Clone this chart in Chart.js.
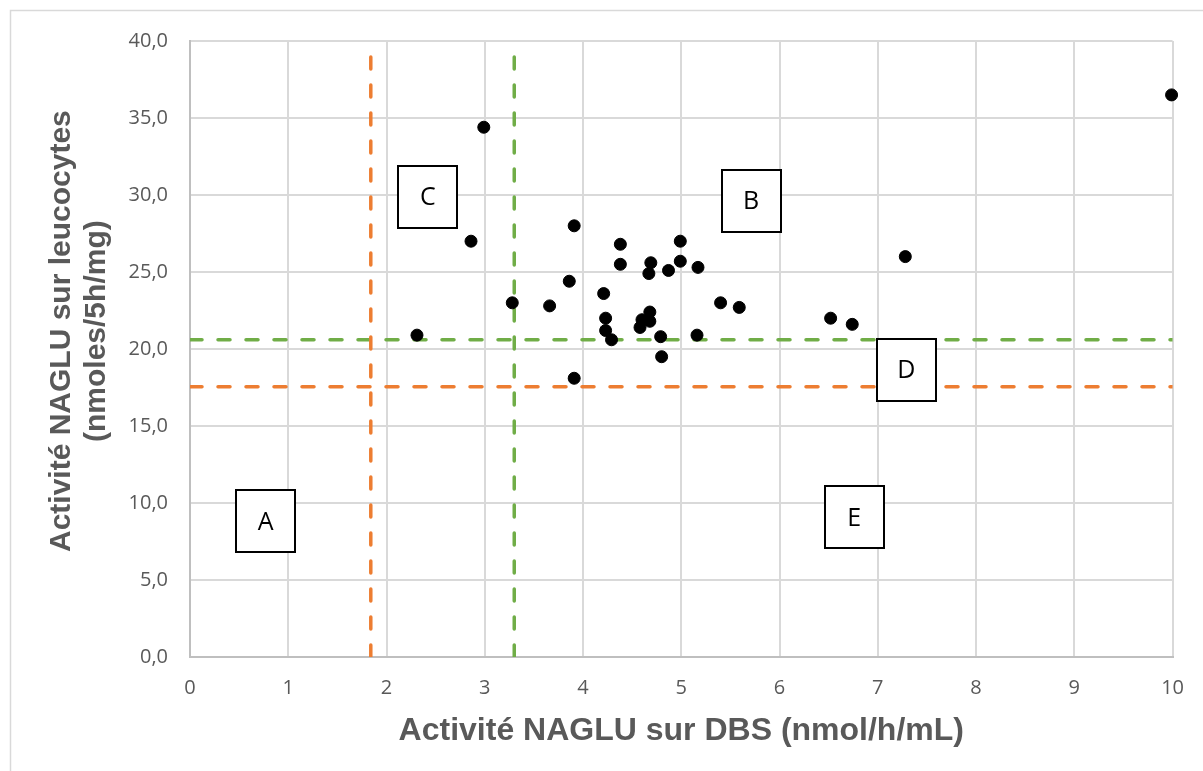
<!DOCTYPE html>
<html>
<head>
<meta charset="utf-8">
<script src="https://cdn.jsdelivr.net/npm/chart.js@4/dist/chart.umd.min.js"></script>
<style>
  html, body { margin: 0; padding: 0; background: #ffffff; }
  #wrap { position: relative; width: 1203px; height: 771px; }
</style>
</head>
<body>
<div id="wrap"><canvas id="c" width="1203" height="771"></canvas></div>
<script>
// ---- Data ----
const dbsActivity = [2.31, 2.86, 2.99, 3.28, 3.66, 3.86, 3.91, 3.91, 4.21, 4.23, 4.23, 4.29, 4.38, 4.38, 4.58, 4.60, 4.67, 4.68, 4.68, 4.69, 4.79, 4.80, 4.87, 4.99, 4.99, 5.16, 5.17, 5.40, 5.59, 6.52, 6.74, 7.28, 9.99];
const leukoActivity = [20.9, 27.0, 34.4, 23.0, 22.8, 24.4, 28.0, 18.1, 23.6, 22.0, 21.2, 20.6, 26.8, 25.5, 21.4, 21.9, 24.9, 22.4, 21.8, 25.6, 20.8, 19.5, 25.1, 27.0, 25.7, 20.9, 25.3, 23.0, 22.7, 22.0, 21.6, 26.0, 36.5];

// Threshold lines
const dbsThresholdOrange = 1.84;
const dbsThresholdGreen = 3.30;
const leukoThresholdGreen = 20.6;
const leukoThresholdOrange = 17.55;

// Axis ranges / ticks
const xTickValues = [0, 1, 2, 3, 4, 5, 6, 7, 8, 9, 10];
const yTickValues = [0, 5, 10, 15, 20, 25, 30, 35, 40];

// Zone labels (in data coordinates)
const zoneNames = ['A', 'B', 'C', 'D', 'E'];
const zoneX = [0.77, 5.71, 2.42, 7.29, 6.76];
const zoneY = [8.8, 29.6, 29.9, 18.65, 9.06];

const xTitle = 'Activité NAGLU sur DBS (nmol/h/mL)';
const yTitleLines = ['Activité NAGLU sur leucocytes', '(nmoles/5h/mg)'];

// ---- Chart ----
const points = dbsActivity.map((x, i) => ({ x: x, y: leukoActivity[i] }));
const xMin = xTickValues[0], xMax = xTickValues[xTickValues.length - 1];
const yMin = yTickValues[0], yMax = yTickValues[yTickValues.length - 1];

function hLine(y) { return [{ x: xMin, y: y }, { x: xMax, y: y }]; }
function vLine(x) { return [{ x: x, y: yMin }, { x: x, y: yMax }]; }

const ORANGE = '#ED7D31';
const GREEN = '#70AD47';

function dashed(data, color) {
  return {
    type: 'line', data: data, borderColor: color, borderWidth: 3.5,
    borderDash: [12, 16], borderCapStyle: 'round', pointRadius: 0,
    fill: false, order: 2, showLine: true, tension: 0
  };
}

const framePlugin = {
  id: 'frame',
  beforeDraw(chart) {
    const ctx = chart.ctx;
    ctx.save();
    ctx.fillStyle = '#ffffff';
    ctx.fillRect(0, 0, chart.width, chart.height);
    ctx.strokeStyle = '#d9d9d9';
    ctx.lineWidth = 1.5;
    ctx.beginPath();
    ctx.moveTo(10.5, chart.height + 2);
    ctx.lineTo(10.5, 10.5);
    ctx.lineTo(chart.width + 2, 10.5);
    ctx.stroke();
    ctx.restore();
  }
};

const yTitlePlugin = {
  id: 'yTitle',
  afterDraw(chart) {
    const ctx = chart.ctx;
    const area = chart.chartArea;
    ctx.save();
    ctx.fillStyle = '#595959';
    ctx.font = 'bold 30px "Liberation Sans", Arial, sans-serif';
    ctx.textAlign = 'center';
    ctx.textBaseline = 'middle';
    const cy = area.top + (area.bottom - area.top) * 0.471;
    const xs = [62, 97];
    yTitleLines.forEach((line, i) => {
      ctx.save();
      ctx.translate(xs[i], cy);
      ctx.rotate(-Math.PI / 2);
      ctx.fillText(line, 0, 0);
      ctx.restore();
    });
    ctx.restore();
  }
};

const zonePlugin = {
  id: 'zones',
  afterDatasetsDraw(chart) {
    const ctx = chart.ctx;
    const xs = chart.scales.x, ys = chart.scales.y;
    ctx.save();
    ctx.font = '25px "Open Sans", "Liberation Sans", sans-serif';
    ctx.textAlign = 'center';
    ctx.textBaseline = 'middle';
    const w = 59, h = 62;
    zoneNames.forEach((name, i) => {
      const cx = xs.getPixelForValue(zoneX[i]);
      const cy = ys.getPixelForValue(zoneY[i]);
      const l = Math.round(cx - w / 2), t = Math.round(cy - h / 2);
      ctx.fillStyle = '#ffffff';
      ctx.fillRect(l, t, w, h);
      ctx.strokeStyle = '#000000';
      ctx.lineWidth = 2;
      ctx.strokeRect(l, t, w, h);
      ctx.fillStyle = '#000000';
      ctx.fillText(name, cx, cy + 1);
    });
    ctx.restore();
  }
};

new Chart(document.getElementById('c'), {
  type: 'scatter',
  data: {
    datasets: [
      {
        label: 'Patients', data: points, backgroundColor: '#000000', borderColor: '#000000',
        pointRadius: 6, pointBorderWidth: 1, order: 1, clip: false
      },
      dashed(vLine(dbsThresholdOrange), ORANGE),
      dashed(vLine(dbsThresholdGreen), GREEN),
      dashed(hLine(leukoThresholdGreen), GREEN),
      dashed(hLine(leukoThresholdOrange), ORANGE)
    ]
  },
  options: {
    responsive: false,
    animation: false,
    events: [],
    layout: { padding: { top: 41, right: 29, left: 0, bottom: 0 } },
    plugins: { legend: { display: false }, tooltip: { enabled: false }, title: { display: false } },
    scales: {
      x: {
        type: 'linear', min: xMin, max: xMax,
        afterBuildTicks(scale) { scale.ticks = xTickValues.map(v => ({ value: v })); },
        afterFit(scale) { scale.height = 114; },
        ticks: {
          color: '#595959', padding: 19,
          font: { family: '"Open Sans", "Liberation Sans", sans-serif', size: 20 },
          callback: v => String(v), maxRotation: 0, autoSkip: false
        },
        grid: { color: '#d9d9d9', lineWidth: 2, drawTicks: false },
        border: { color: '#bfbfbf', width: 2 },
        title: {
          display: true, text: xTitle, color: '#595959',
          font: { family: '"Liberation Sans", Arial, sans-serif', size: 32, weight: 'bold' },
          padding: { top: 0, bottom: 21 }
        }
      },
      y: {
        type: 'linear', min: yMin, max: yMax,
        afterBuildTicks(scale) { scale.ticks = yTickValues.map(v => ({ value: v })); },
        afterFit(scale) { scale.width = 190; },
        ticks: {
          color: '#595959', padding: 22,
          font: { family: '"Open Sans", "Liberation Sans", sans-serif', size: 20 },
          callback: v => v.toFixed(1).replace('.', ','), autoSkip: false
        },
        grid: { color: '#d9d9d9', lineWidth: 2, drawTicks: false },
        border: { color: '#bfbfbf', width: 2 }
      }
    }
  },
  plugins: [framePlugin, yTitlePlugin, zonePlugin]
});
</script>
</body>
</html>
